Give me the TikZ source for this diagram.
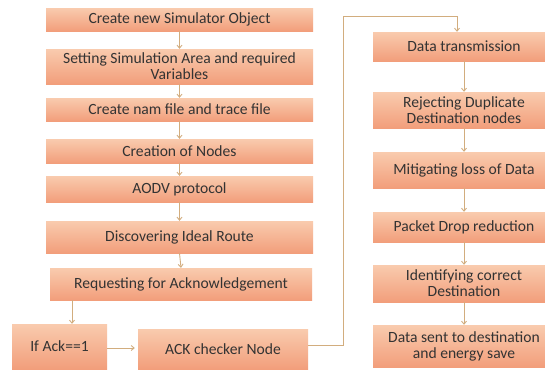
\documentclass[tikz,border=0pt]{standalone}
\usepackage{fontspec}
\setmainfont{Carlito}
\usetikzlibrary{arrows.meta}
\definecolor{peachtop}{HTML}{F9CBAE}
\definecolor{peachbot}{HTML}{F29E7B}
\definecolor{linec}{HTML}{D2AD7E}
\definecolor{txt}{HTML}{333333}
\tikzset{
  box/.style={rectangle, top color=peachtop, bottom color=peachbot, draw=none,
    text=txt, font=\fontsize{15.6}{16}\selectfont, align=center, inner sep=0pt},
  conn/.style={draw=linec, line width=0.9pt, -{Straight Barb[length=3pt,width=5pt]}},
  plain/.style={draw=linec, line width=0.9pt}
}
\begin{document}
\begin{tikzpicture}[x=1pt,y=1pt]
\useasboundingbox (0,0) rectangle (545,-370);
\fill[white] (0,0) rectangle (545,-370);
% left column
\node[box, minimum width=267, minimum height=23] (b1) at (179.5,-19.5) {Create new Simulator Object};
\node[box, minimum width=267, minimum height=35] (b2) at (179.5,-66.5) {Setting Simulation Area and required\\Variables};
\node[box, minimum width=267, minimum height=23] (b3) at (179.5,-109.5) {Create nam file and trace file};
\node[box, minimum width=267, minimum height=24] (b4) at (179.5,-151) {Creation of Nodes};
\node[box, minimum width=267, minimum height=26] (b5) at (179.5,-189) {AODV protocol};
\node[box, minimum width=267, minimum height=32] (b6) at (179.5,-237) {Discovering Ideal Route};
\node[box, minimum width=262, minimum height=32] (b7) at (181,-284) {Requesting for Acknowledgement};
\node[box, minimum width=95, minimum height=45] (b8) at (59.5,-346.5) {If Ack==1};
\node[box, minimum width=170, minimum height=40] (b9) at (223,-349) {ACK checker Node};
% right column
\node[box, minimum width=182, minimum height=29] (r1) at (464,-46.5) {Data transmission};
\node[box, minimum width=182, minimum height=36] (r2) at (464,-110) {Rejecting Duplicate\\Destination nodes};
\node[box, minimum width=182, minimum height=36] (r3) at (464,-170) {Mitigating loss of Data};
\node[box, minimum width=182, minimum height=30] (r4) at (464,-227) {Packet Drop reduction};
\node[box, minimum width=182, minimum height=37] (r5) at (464,-283.5) {Identifying correct\\Destination};
\node[box, minimum width=182, minimum height=42] (r6) at (464,-346) {Data sent to destination\\and energy save};
% arrows left
\draw[conn] (b1.south) -- (b2.north);
\draw[conn] (b2.south) -- (b3.north);
\draw[conn] (b3.south) -- (b4.north);
\draw[conn] (b4.south) -- (b5.north);
\draw[conn] (b5.south) -- (b6.north);
\draw[conn] (b6.south) -- (b7.north);
\draw[conn] (b7.south -| 72,0) -- (b8.north -| 72,0);
\draw[conn] (b8.east |- 0,-348) -- ([xshift=-3pt]b9.west |- 0,-348);
\coordinate (c1) at (343,-345);
\coordinate (c2) at (343,-16);
\coordinate (c3) at (457,-16);
\draw[plain] (b9.east |- c1) -- (c1) -- (c2) -- (c3);
\draw[conn] (c3) -- (r1.north -| c3);
% arrows right
\draw[conn] (r1.south) -- (r2.north);
\draw[conn] (r2.south) -- (r3.north);
\draw[conn] (r3.south) -- (r4.north);
\draw[conn] (r4.south) -- (r5.north);
\draw[conn] (r5.south) -- (r6.north);
\end{tikzpicture}
\end{document}
